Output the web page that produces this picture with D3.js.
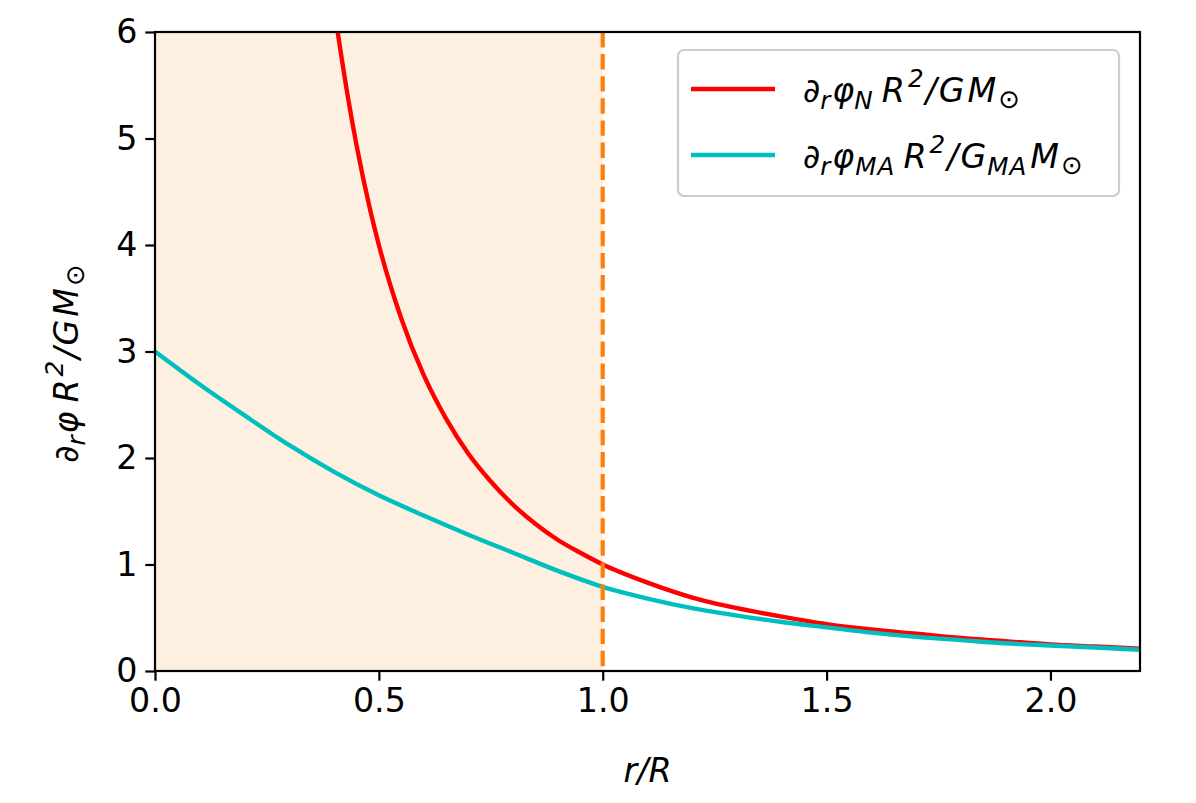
<!DOCTYPE html>
<html>
<head>
<meta charset="utf-8">
<script src="https://cdn.jsdelivr.net/npm/d3@7"></script>
<style>
  body { margin: 0; background: #fff; }
  text { font-family: "DejaVu Sans", sans-serif; }
</style>
</head>
<body>
<div id="chart"></div>
<script>
// values
var rN   = [0.408, 0.43, 0.45, 0.48, 0.5, 0.55, 0.6, 0.65, 0.7, 0.75, 0.8, 0.85, 0.9, 0.95, 1.0,
            1.1, 1.2, 1.3, 1.4, 1.5, 1.6, 1.7, 1.8, 1.9, 2.0, 2.1, 2.2];
var phiN = [6.0, 5.41, 4.94, 4.34, 4.0, 3.31, 2.78, 2.37, 2.04, 1.78, 1.56, 1.38, 1.23, 1.11, 1.0,
            0.83, 0.69, 0.59, 0.51, 0.44, 0.39, 0.35, 0.31, 0.28, 0.25, 0.23, 0.21];

var rMA   = [0.0, 0.1, 0.2, 0.3, 0.4, 0.5, 0.6, 0.7, 0.8, 0.9, 1.0, 1.1, 1.2, 1.3, 1.4, 1.5,
             1.6, 1.7, 1.8, 1.9, 2.0, 2.1, 2.2];
var phiMA = [3.0, 2.69, 2.40, 2.12, 1.87, 1.65, 1.46, 1.28, 1.11, 0.94, 0.79, 0.68, 0.59, 0.52,
             0.46, 0.41, 0.36, 0.32, 0.29, 0.26, 0.24, 0.22, 0.20];

var xTicks = [0.0, 0.5, 1.0, 1.5, 2.0];
var yTicks = [0, 1, 2, 3, 4, 5, 6];
var shadeRange = [0, 1];
var boundary = 1.0;

var width = 1196, height = 803;
var margin = {left: 155, right: 56, top: 32, bottom: 132};
var fs = 33.3;

var svg = d3.select("#chart").append("svg")
    .attr("width", width)
    .attr("height", height);

var x = d3.scaleLinear().domain([0, 2.2]).range([margin.left, width - margin.right]);
var y = d3.scaleLinear().domain([0, 6]).range([height - margin.bottom, margin.top]);

// clip to plot area
svg.append("clipPath").attr("id", "clip")
   .append("rect")
   .attr("x", x(0)).attr("y", y(6))
   .attr("width", x(2.2) - x(0)).attr("height", y(0) - y(6));

var plot = svg.append("g").attr("clip-path", "url(#clip)");

// shaded interior region
plot.append("rect")
    .attr("x", x(shadeRange[0]))
    .attr("y", y(6))
    .attr("width", x(shadeRange[1]) - x(shadeRange[0]))
    .attr("height", y(0) - y(6))
    .attr("fill", "#fdf0e1");

var line = d3.line()
    .x(function(d) { return x(d[0]); })
    .y(function(d) { return y(d[1]); })
    .curve(d3.curveMonotoneX);

plot.append("path")
    .datum(d3.zip(rN, phiN))
    .attr("d", line)
    .attr("fill", "none")
    .attr("stroke", "#ff0000")
    .attr("stroke-width", 4.4);

plot.append("path")
    .datum(d3.zip(rMA, phiMA))
    .attr("d", line)
    .attr("fill", "none")
    .attr("stroke", "#00bfbf")
    .attr("stroke-width", 4.4);

// boundary r = R
plot.append("line")
    .attr("x1", x(boundary)).attr("x2", x(boundary))
    .attr("y1", y(6)).attr("y2", y(0))
    .attr("stroke", "#ff7f0e")
    .attr("stroke-width", 4.2)
    .attr("stroke-dasharray", "15.4,6.7");

// axes
var xAxis = d3.axisBottom(x).tickValues(xTicks).tickFormat(d3.format(".1f")).tickSizeOuter(0).tickSize(9.7).tickPadding(8);
var yAxis = d3.axisLeft(y).tickValues(yTicks).tickFormat(d3.format("d")).tickSizeOuter(0).tickSize(9.7).tickPadding(8);

var gx = svg.append("g").attr("transform", "translate(0," + y(0) + ")").call(xAxis);
var gy = svg.append("g").attr("transform", "translate(" + x(0) + ",0)").call(yAxis);

[gx, gy].forEach(function(g) {
    g.select(".domain").remove();
    g.selectAll(".tick line").attr("stroke", "#000").attr("stroke-width", 2.2);
    g.selectAll(".tick text").attr("font-size", fs).attr("fill", "#000")
     .style("font-family", "DejaVu Sans");
});

// frame
svg.append("rect")
    .attr("x", x(0)).attr("y", y(6))
    .attr("width", x(2.2) - x(0)).attr("height", y(0) - y(6))
    .attr("fill", "none")
    .attr("stroke", "#000")
    .attr("stroke-width", 2.2);

// mathtext-like labels: parts = [text, style, dx]
function mathText(sel, parts) {
    parts.forEach(function(p) {
        var t = sel.append("tspan").text(p[0]);
        if (p[1] === "sub") t.attr("font-size", "0.74em").attr("baseline-shift", "-0.3em").attr("letter-spacing", 1);
        if (p[1] === "sup") t.attr("font-size", "0.74em").attr("baseline-shift", "0.6em");
        if (p[1] === "osub") t.attr("font-style", "normal").attr("font-size", "0.78em").attr("baseline-shift", "-0.25em");
        if (p[2]) t.attr("dx", p[2]);
    });
}

// axis labels
svg.append("text")
    .attr("x", (x(0) + x(2.2)) / 2)
    .attr("y", 782)
    .attr("text-anchor", "middle")
    .attr("font-size", fs)
    .attr("font-style", "italic")
    .text("r/R");

var yl = svg.append("text")
    .attr("transform", "translate(78," + ((y(0) + y(6)) / 2 + 12) + ") rotate(-90)")
    .attr("text-anchor", "middle")
    .attr("font-size", fs)
    .attr("font-style", "italic");
mathText(yl, [["∂"], ["r", "sub"], ["φ", null, 1], ["R", null, 9], ["2", "sup", 3], ["/", null, 2], ["G", null, 2], ["M", null, 3], ["⊙", "osub", 2]]);

// legend
var legend = svg.append("g");
legend.append("rect")
    .attr("x", 678).attr("y", 50)
    .attr("width", 441).attr("height", 146)
    .attr("rx", 6)
    .attr("fill", "#fff").attr("fill-opacity", 0.8)
    .attr("stroke", "#cccccc").attr("stroke-width", 2.2);

var entries = [
    {color: "#ff0000", parts: [["∂"], ["r", "sub"], ["φ", null, 1], ["N", "sub"], ["R", null, 8], ["2", "sup", 3], ["/", null, 2], ["G", null, 2], ["M", null, 3], ["⊙", "osub", 2]]},
    {color: "#00bfbf", parts: [["∂"], ["r", "sub"], ["φ", null, 1], ["MA", "sub", 1], ["R", null, 8], ["2", "sup", 3], ["/", null, 2], ["G", null, 2], ["MA", "sub", 1], ["M", null, 3], ["⊙", "osub", 2]]}
];
entries.forEach(function(e, i) {
    var yy = 89 + i * 66;
    legend.append("line")
        .attr("x1", 691).attr("x2", 775)
        .attr("y1", yy).attr("y2", yy)
        .attr("stroke", e.color).attr("stroke-width", 4.4);
    var t = legend.append("text")
        .attr("x", 803).attr("y", yy + 13)
        .attr("font-size", fs)
        .attr("font-style", "italic");
    mathText(t, e.parts);
});
</script>
</body>
</html>
